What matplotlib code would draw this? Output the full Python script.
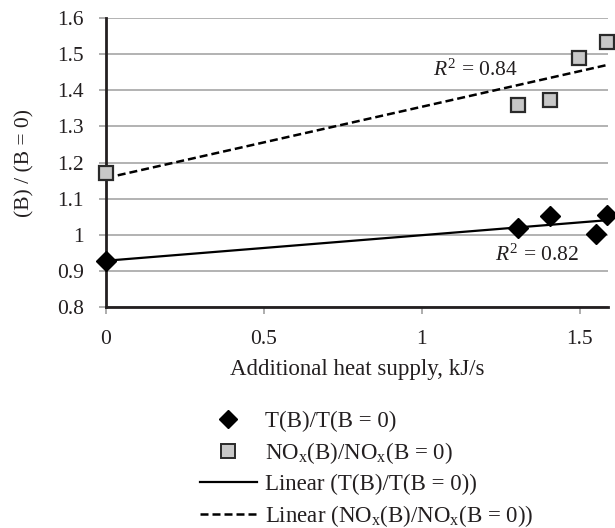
import numpy as np
import matplotlib
matplotlib.use("Agg")
import matplotlib.pyplot as plt
from matplotlib.lines import Line2D

plt.rcParams['font.family'] = ['Liberation Serif', 'DejaVu Serif']
plt.rcParams['mathtext.fontset'] = 'custom'
plt.rcParams['mathtext.rm'] = 'Liberation Serif'
plt.rcParams['mathtext.it'] = 'Liberation Serif:italic'

TXT = '#231f20'
FS = 15.5   # tick labels
FL = 16.5   # axis labels, legend, annotations

# data
t_x = [0.0, 1.303, 1.404, 1.55, 1.587]
t_y = [0.926, 1.017, 1.052, 1.003, 1.054]
nox_x = [0.0, 1.303, 1.404, 1.497, 1.587]
nox_y = [1.172, 1.359, 1.373, 1.491, 1.535]
r2_t = 0.82
r2_nox = 0.84
x_ticks = [0, 0.5, 1, 1.5]
x_ticklabels = ['0', '0.5', '1', '1.5']
y_ticks = [0.8, 0.9, 1.0, 1.1, 1.2, 1.3, 1.4, 1.5, 1.6]
y_ticklabels = ['0.8', '0.9', '1', '1.1', '1.2', '1.3', '1.4', '1.5', '1.6']
XMAX = 1.589

fig = plt.figure(figsize=(6.15, 5.28), dpi=100)
ax = fig.add_axes([0.1724, 0.4191, 0.8163, 0.5462])

# trend lines (least squares, same as the spreadsheet trendline)
xx = np.array([0, XMAX])
kt, bt = np.polyfit(t_x, t_y, 1)
kn, bn = np.polyfit(nox_x, nox_y, 1)
ax.plot(xx, kt*xx + bt, color='black', lw=1.6, zorder=3)
ax.plot(xx, kn*xx + bn, color='black', lw=1.8, ls=(0, (3.2, 1.6)), zorder=3)

ax.plot(t_x, t_y, ls='none', marker='D', ms=10.5, color='black', mec='black',
        clip_on=False, zorder=5)
ax.plot(nox_x, nox_y, ls='none', marker='s', ms=10.5, mfc='#c8c8c8', mec='#2a2a2a',
        mew=1.6, clip_on=False, zorder=5)

ax.text(1.168, 1.455, r'$\mathit{R}^{2}$ = %.2f' % r2_nox, fontsize=FS, color=TXT,
        ha='center', va='center')
ax.text(1.364, 0.942, r'$\mathit{R}^{2}$ = %.2f' % r2_t, fontsize=FS, color=TXT,
        ha='center', va='center')

ax.set_xlim(0, XMAX)
ax.set_ylim(0.8, 1.6)
ax.set_xticks(x_ticks)
ax.set_xticklabels(x_ticklabels)
ax.set_yticks(y_ticks)
ax.set_yticklabels(y_ticklabels)
ax.tick_params(axis='both', labelsize=FS, labelcolor=TXT, color='#a0a0a0',
               length=5, width=1.2, direction='out')
ax.tick_params(axis='x', pad=12)
ax.tick_params(axis='y', pad=11)
ax.grid(axis='y', color='#a6a6a6', lw=1.2, zorder=0)
ax.set_axisbelow(True)
for s in ['top', 'right']:
    ax.spines[s].set_visible(False)
for s in ['left', 'bottom']:
    ax.spines[s].set_linewidth(2.0)
    ax.spines[s].set_color('#231f20')
    ax.spines[s].set_zorder(4)

ax.set_xlabel('Additional heat supply, kJ/s', fontsize=FL, color=TXT, labelpad=7)
ax.set_ylabel('(B) / (B = 0)', fontsize=FS, color=TXT, labelpad=16)

handles = [
    Line2D([], [], ls='none', marker='D', ms=9, color='black'),
    Line2D([], [], ls='none', marker='s', ms=9.5, mfc='#c8c8c8', mec='#2a2a2a', mew=1.4),
    Line2D([], [], color='black', lw=1.6),
    Line2D([], [], color='black', lw=1.8, ls=(0, (3.2, 1.6))),
]
labels = ['T(B)/T(B = 0)', r'NO$_\mathrm{x}$(B)/NO$_\mathrm{x}$(B = 0)',
          'Linear (T(B)/T(B = 0))',
          r'Linear (NO$_\mathrm{x}$(B)/NO$_\mathrm{x}$(B = 0))']
leg = fig.legend(handles, labels, loc='upper left', bbox_to_anchor=(0.325, 0.2215),
                 frameon=False, fontsize=FL, handlelength=2.48, handletextpad=0.35,
                 labelspacing=0.34, borderpad=0, borderaxespad=0)
for t in leg.get_texts():
    t.set_color(TXT)

fig.savefig('out.png', dpi=100)
